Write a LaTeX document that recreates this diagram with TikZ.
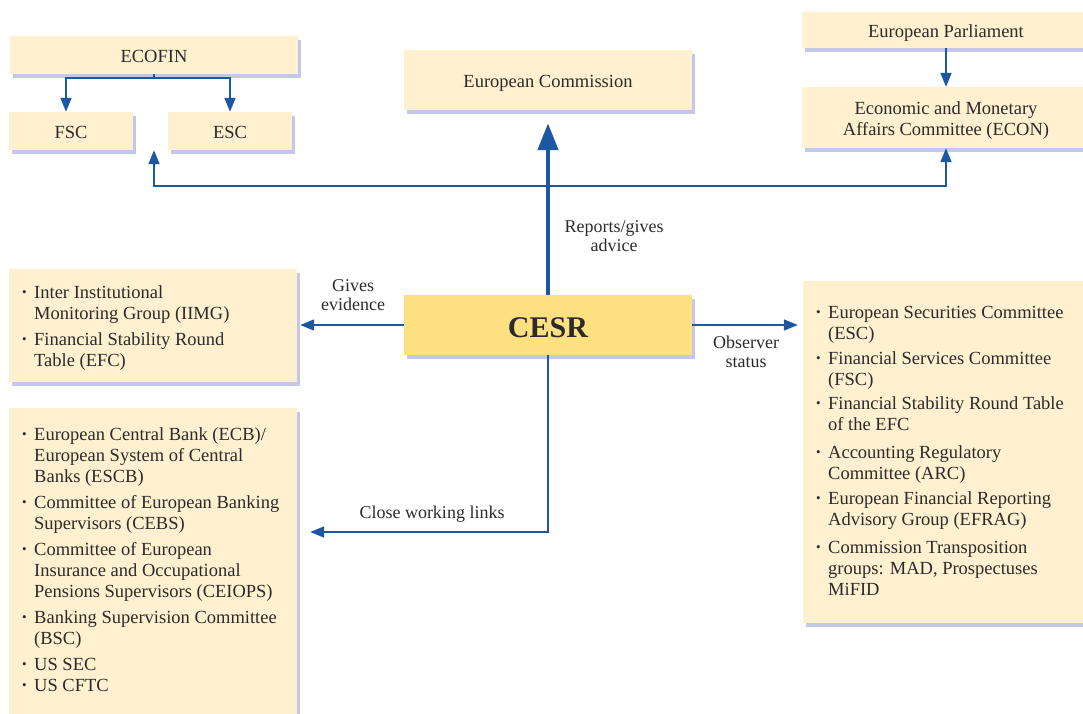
\documentclass[tikz,border=0pt]{standalone}
\usepackage{fontspec}
\setmainfont{Liberation Serif}
\usetikzlibrary{arrows.meta,shadows,calc}
\definecolor{cream}{HTML}{FFF0CF}
\definecolor{cesrfill}{HTML}{FDE080}
\definecolor{shadowc}{HTML}{B4B9E2}
\definecolor{linkblue}{HTML}{1B57A3}
\definecolor{txt}{HTML}{2B2B2B}
\newcommand\bitem{\makebox[12pt][l]{\raisebox{0.2ex}{\scalebox{0.7}{•}}}}
\newcommand\bcont{\hspace*{12pt}}
\begin{document}
\begin{tikzpicture}[x=1pt,y=-1pt,
  box/.style={fill=cream, draw=none, inner sep=0pt, text=txt,
    font=\fontsize{18.5}{21}\selectfont, text height=15.5pt, text depth=0pt,
    drop shadow={shadow xshift=3pt, shadow yshift=-4pt, fill=shadowc, opacity=0.8}},
  listtext/.style={anchor=north west, inner sep=0pt, align=left, text=txt,
    font=\fontsize{18.5}{21}\selectfont},
  lbl/.style={align=center, inner sep=0pt, text=txt, font=\fontsize{18}{19}\selectfont},
  link/.style={draw=linkblue, line width=1.8pt, -{Triangle[width=11pt,length=14pt]}},
  bigarrow/.style={draw=linkblue, line width=4.5pt, -{Triangle[width=20pt,length=27pt]}}
]
\useasboundingbox (0,0) rectangle (1083,713);

% boxes
\node[box, minimum width=288pt, minimum height=38pt] (ecofin) at (154,55) {ECOFIN};
\node[box, minimum width=124pt, minimum height=38pt] (fsc) at (71,131) {FSC};
\node[box, minimum width=124pt, minimum height=38pt] (esc) at (230,131) {ESC};
\node[box, minimum width=288pt, minimum height=60pt] (ec) at (548,80) {European Commission};
\node[box, fill=cesrfill, minimum width=288pt, minimum height=60pt, text height=24pt,
      font=\fontsize{30}{30}\selectfont\bfseries] (cesr) at (548,325) {CESR};
\node[box, minimum width=288pt, minimum height=36pt] (ep) at (946,30) {European Parliament};
\node[box, minimum width=288pt, minimum height=61pt, align=center,
      text height=39pt, text depth=4pt] (econ) at (946,117.5)
  {Economic and Monetary\\Affairs Committee (ECON)};
\node[box, minimum width=288pt, minimum height=113pt] (lb1) at (153,325) {};
\node[box, minimum width=288pt, minimum height=312pt] (lb2) at (153,564) {};
\node[box, minimum width=288pt, minimum height=342pt] (rb) at (947,452) {};

% list texts
\node[listtext] (lb1t) at (22,285) {\bitem Inter Institutional\\
  \bcont Monitoring Group (IIMG)\\[5pt]
  \bitem Financial Stability Round\\
  \bcont Table (EFC)};
\node[listtext] (lb2t) at (22,427) {\bitem European Central Bank (ECB)/\\
  \bcont European System of Central\\
  \bcont Banks (ESCB)\\[5pt]
  \bitem Committee of European Banking\\
  \bcont Supervisors (CEBS)\\[5pt]
  \bitem Committee of European\\
  \bcont Insurance and Occupational\\
  \bcont Pensions Supervisors (CEIOPS)\\[5pt]
  \bitem Banking Supervision Committee\\
  \bcont (BSC)\\[5pt]
  \bitem US SEC\\
  \bitem US CFTC};
\node[listtext] (rbt) at (816,306) {\bitem European Securities Committee\\
  \bcont (ESC)\\[4pt]
  \bitem Financial Services Committee\\
  \bcont (FSC)\\[3pt]
  \bitem Financial Stability Round Table\\
  \bcont of the EFC\\[7pt]
  \bitem Accounting Regulatory\\
  \bcont Committee (ARC)\\[4pt]
  \bitem European Financial Reporting\\
  \bcont Advisory Group (EFRAG)\\[7pt]
  \bitem Commission Transposition\\
  \bcont groups: MAD, Prospectuses\\
  \bcont MiFID};

% connectors
\draw[link] (ecofin.south) -- ++(0,4) -| ($(fsc.north)+(-5,0)$);
\draw[link] (ecofin.south) -- ++(0,4) -| (esc.north);
\draw[bigarrow, shorten >=13pt] (cesr.north) -- (ec.south);
\coordinate (bus) at (548,186);
\draw[link] (bus) -| (ecofin.south |- fsc.south);
\draw[link] (bus) -| (econ.south);
\draw[link] (ep.south) -- (econ.north);
\draw[link, shorten >=3pt] (cesr.west) -- (lb1.east);
\draw[link, shorten >=5pt] (cesr.east) -- (cesr.east -| rb.west);
\coordinate (cwl) at (548,532);
\draw[link, shorten >=13pt] (cesr.south) |- (lb2.east |- cwl);

% labels
\node[lbl] (l1) at (614,236) {Reports/gives\\advice};
\node[lbl] (l2) at (353,295) {Gives\\evidence};
\node[lbl] (l3) at (746,352) {Observer\\status};
\node[lbl] (l4) at (432,514) {Close working links};
\end{tikzpicture}
\end{document}
